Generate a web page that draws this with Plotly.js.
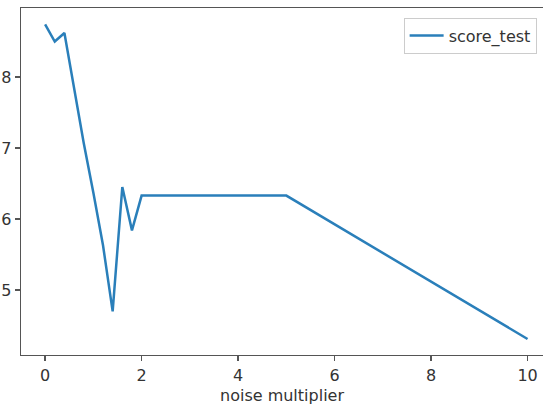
<!DOCTYPE html>
<html>
<head>
<meta charset="utf-8">
<script src="https://cdn.plot.ly/plotly-3.0.1.min.js"></script>
<style>html,body{margin:0;padding:0;background:#fff;}#chart{width:543px;height:405px;}</style>
</head>
<body>
<div id="chart"></div>
<script>
const noiseMultiplier = [0, 0.2, 0.4, 0.6, 0.8, 1.0, 1.2, 1.4, 1.6, 1.8, 2.0, 5.0, 10.0];
const scoreTest = [8.74, 8.50, 8.62, 7.83, 7.07, 6.37, 5.63, 4.70, 6.45, 5.84, 6.33, 6.33, 4.31];
const seriesName = 'score_test';
const xTicks = [0, 2, 4, 6, 8, 10];
const yTicks = [5, 6, 7, 8];

const axisColor = '#555';
const font = {family: 'DejaVu Sans, sans-serif', size: 16, color: '#333'};

const trace = {
  x: noiseMultiplier,
  y: scoreTest,
  name: seriesName,
  type: 'scatter',
  mode: 'lines',
  line: {color: '#2a7fba', width: 2.5},
  showlegend: true
};

const layout = {
  width: 543, height: 405,
  margin: {l: 21, r: 0, t: 8, b: 50, pad: 0, autoexpand: false},
  paper_bgcolor: '#fff', plot_bgcolor: '#fff',
  font: font,
  xaxis: {
    range: [-0.5, 10.32],
    tickvals: xTicks,
    ticks: 'outside', ticklen: 5, tickwidth: 1.3, tickcolor: axisColor,
    showline: true, linecolor: axisColor, linewidth: 1.3, mirror: true,
    showgrid: false, zeroline: false,
    tickfont: font,
    title: {text: 'noise multiplier', font: font, standoff: 6}
  },
  yaxis: {
    range: [4.085, 8.972],
    tickvals: yTicks,
    ticks: 'outside', ticklen: 5, tickwidth: 1.3, tickcolor: axisColor,
    showline: true, linecolor: axisColor, linewidth: 1.3, mirror: false,
    showgrid: false, zeroline: false,
    tickfont: font,
    ticklabelstandoff: 0
  },
  legend: {
    x: 0.733, y: 0.972, xanchor: 'left', yanchor: 'top',
    bgcolor: '#fff', bordercolor: '#ccc', borderwidth: 1,
    itemwidth: 34,
    font: font
  }
};

Plotly.newPlot('chart', [trace], layout, {displayModeBar: false, staticPlot: true});
</script>
</body>
</html>
